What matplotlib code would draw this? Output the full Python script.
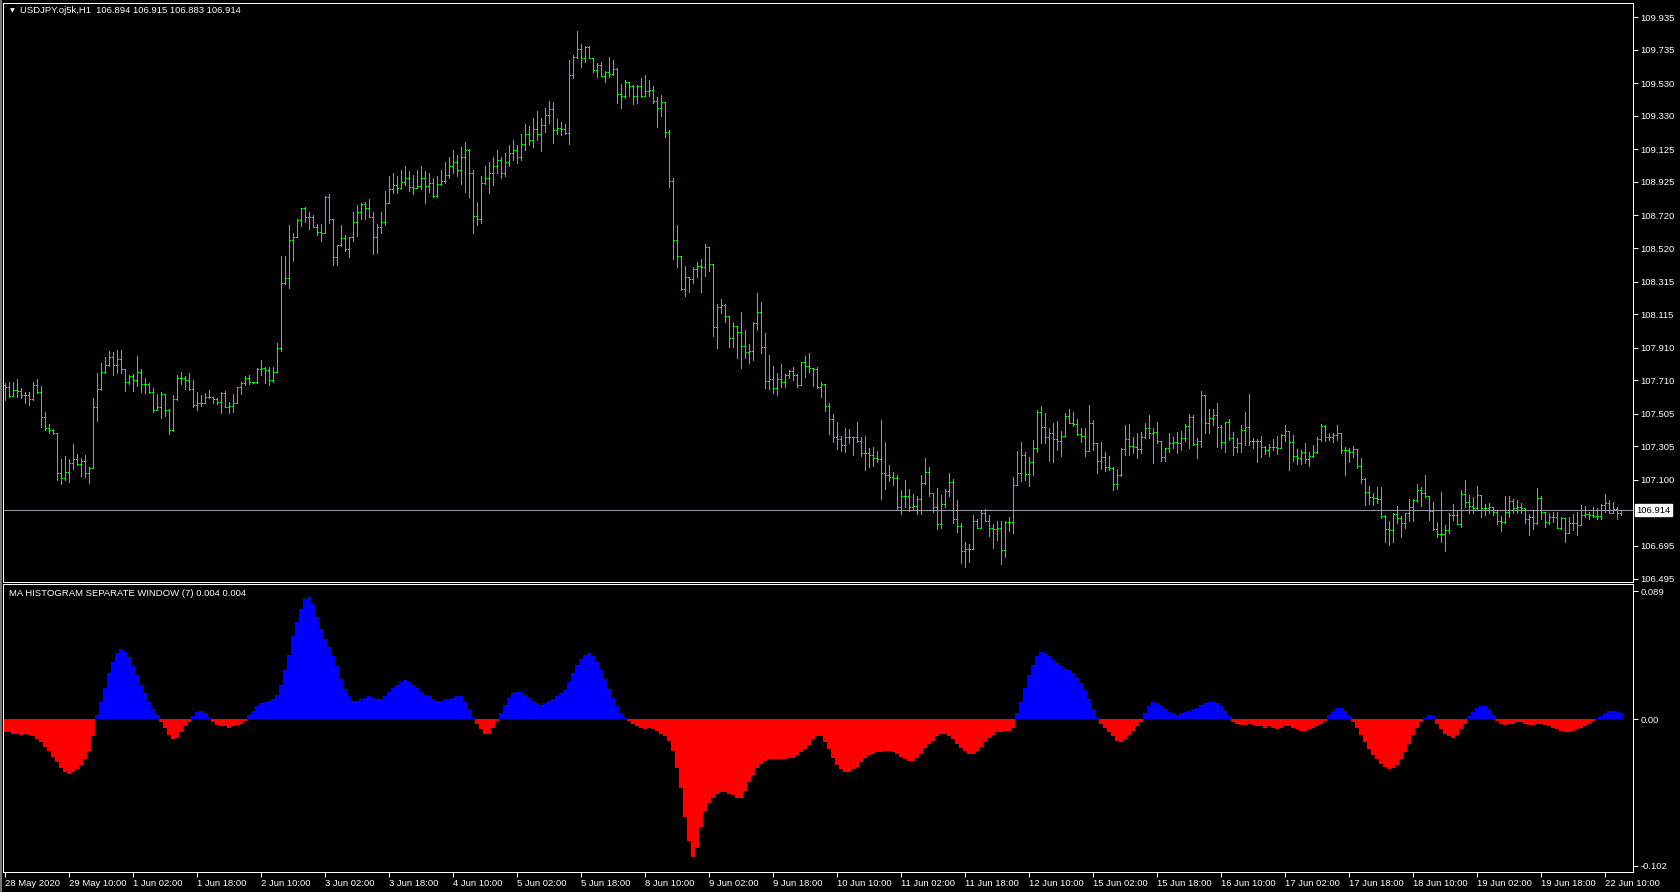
import matplotlib
matplotlib.use('Agg')
import matplotlib.pyplot as plt
import numpy as np
from matplotlib.lines import Line2D

plt.rcParams['font.family'] = ['Liberation Sans', 'DejaVu Sans']

# USDJPY H1 bars, 28 May 2020 18:00 -> 22 Jun 2020 14:00
first_open = 107.680
high = [
    107.695, 107.702, 107.702, 107.718, 107.661, 107.640, 107.640, 107.702, 107.716, 107.675,
    107.518, 107.440, 107.414, 107.389, 107.226, 107.246, 107.228, 107.318, 107.258, 107.232,
    107.252, 107.181, 107.599, 107.753, 107.818, 107.851, 107.889, 107.885, 107.895, 107.895,
    107.732, 107.742, 107.748, 107.859, 107.777, 107.722, 107.695, 107.661, 107.624, 107.640,
    107.624, 107.534, 107.620, 107.742, 107.763, 107.736, 107.753, 107.712, 107.636, 107.620,
    107.634, 107.650, 107.610, 107.599, 107.636, 107.644, 107.579, 107.626, 107.671, 107.697,
    107.736, 107.742, 107.702, 107.783, 107.834, 107.793, 107.793, 107.789, 107.936, 108.471,
    108.471, 108.661, 108.614, 108.698, 108.763, 108.770, 108.739, 108.722, 108.667, 108.667,
    108.839, 108.849, 108.696, 108.539, 108.661, 108.600, 108.586, 108.739, 108.784, 108.794,
    108.800, 108.821, 108.739, 108.667, 108.739, 108.870, 108.960, 108.980, 108.960, 109.000,
    109.020, 108.990, 108.970, 109.000, 109.020, 108.990, 108.980, 108.950, 108.960, 109.000,
    109.050, 109.080, 109.120, 109.090, 109.140, 109.170, 109.130, 109.000, 108.800, 108.960,
    109.020, 109.050, 109.080, 109.120, 109.080, 109.100, 109.150, 109.180, 109.150, 109.220,
    109.280, 109.270, 109.320, 109.360, 109.315, 109.376, 109.421, 109.413, 109.308, 109.290,
    109.280, 109.672, 109.703, 109.850, 109.770, 109.758, 109.758, 109.682, 109.656, 109.662,
    109.607, 109.688, 109.672, 109.621, 109.525, 109.550, 109.539, 109.519, 109.519, 109.560,
    109.580, 109.550, 109.513, 109.443, 109.458, 109.417, 109.243, 108.947, 108.661, 108.471,
    108.410, 108.345, 108.402, 108.433, 108.451, 108.545, 108.524, 108.420, 108.177, 108.206,
    108.177, 108.104, 108.069, 108.042, 108.126, 108.018, 107.932, 108.069, 108.247, 108.192,
    107.998, 107.865, 107.797, 107.753, 107.810, 107.748, 107.773, 107.789, 107.748, 107.824,
    107.859, 107.875, 107.787, 107.793, 107.697, 107.687, 107.573, 107.503, 107.456, 107.368,
    107.415, 107.411, 107.364, 107.456, 107.364, 107.368, 107.293, 107.303, 107.276, 107.466,
    107.330, 107.191, 107.150, 107.129, 107.038, 107.099, 107.042, 107.013, 107.001, 107.129,
    107.232, 107.176, 107.021, 107.048, 107.007, 107.042, 107.140, 107.103, 106.976, 106.833,
    106.721, 106.707, 106.884, 106.858, 106.911, 106.919, 106.884, 106.829, 106.848, 106.848,
    106.848, 106.870, 107.115, 107.276, 107.330, 107.268, 107.238, 107.344, 107.528, 107.552,
    107.507, 107.415, 107.446, 107.460, 107.399, 107.507, 107.532, 107.513, 107.470, 107.416,
    107.416, 107.559, 107.467, 107.328, 107.334, 107.273, 107.246, 107.181, 107.164, 107.293,
    107.436, 107.442, 107.365, 107.385, 107.395, 107.450, 107.497, 107.416, 107.456, 107.293,
    107.293, 107.385, 107.365, 107.395, 107.401, 107.442, 107.503, 107.497, 107.354, 107.646,
    107.620, 107.532, 107.532, 107.569, 107.436, 107.456, 107.471, 107.395, 107.354, 107.436,
    107.518, 107.626, 107.354, 107.348, 107.369, 107.307, 107.320, 107.348, 107.369, 107.381,
    107.436, 107.401, 107.375, 107.289, 107.283, 107.324, 107.273, 107.314, 107.361, 107.442,
    107.436, 107.385, 107.389, 107.436, 107.381, 107.303, 107.293, 107.307, 107.287, 107.232,
    107.109, 107.062, 107.021, 107.054, 107.054, 106.884, 106.850, 106.895, 106.940, 106.878,
    106.899, 106.980, 106.980, 107.074, 107.054, 107.130, 106.997, 106.966, 106.844, 107.027,
    106.823, 106.899, 106.952, 106.915, 107.038, 107.099, 107.007, 106.993, 107.062, 107.007,
    106.952, 106.956, 106.936, 106.909, 106.878, 107.001, 107.001, 106.980, 106.976, 106.956,
    106.925, 106.891, 106.915, 107.048, 107.001, 106.899, 106.895, 106.905, 106.905, 106.870,
    106.817, 106.870, 106.891, 106.905, 106.946, 106.940, 106.905, 106.936, 106.925, 106.952,
    107.013, 106.976, 106.966, 106.931, 106.915,
]
low = [
    107.589, 107.610, 107.620, 107.610, 107.599, 107.569, 107.559, 107.589, 107.630, 107.426,
    107.405, 107.385, 107.381, 107.099, 107.075, 107.099, 107.089, 107.164, 107.191, 107.124,
    107.120, 107.083, 107.171, 107.463, 107.650, 107.757, 107.798, 107.742, 107.753, 107.753,
    107.646, 107.687, 107.644, 107.675, 107.640, 107.634, 107.634, 107.518, 107.528, 107.481,
    107.491, 107.379, 107.401, 107.589, 107.685, 107.655, 107.650, 107.544, 107.528, 107.552,
    107.585, 107.599, 107.573, 107.565, 107.512, 107.544, 107.512, 107.518, 107.569, 107.626,
    107.681, 107.687, 107.691, 107.691, 107.742, 107.695, 107.681, 107.701, 107.763, 107.891,
    108.300, 108.277, 108.443, 108.586, 108.657, 108.682, 108.637, 108.651, 108.600, 108.565,
    108.610, 108.672, 108.416, 108.416, 108.535, 108.504, 108.467, 108.565, 108.596, 108.698,
    108.698, 108.708, 108.482, 108.492, 108.614, 108.661, 108.794, 108.855, 108.855, 108.886,
    108.906, 108.872, 108.851, 108.886, 108.880, 108.798, 108.866, 108.831, 108.835, 108.906,
    108.920, 108.950, 108.980, 108.960, 108.912, 108.866, 108.831, 108.614, 108.661, 108.676,
    108.910, 108.860, 108.906, 108.980, 108.950, 108.960, 109.020, 109.060, 109.040, 109.060,
    109.120, 109.150, 109.140, 109.180, 109.117, 109.233, 109.284, 109.163, 109.219, 109.212,
    109.219, 109.157, 109.560, 109.682, 109.631, 109.662, 109.682, 109.600, 109.570, 109.574,
    109.535, 109.570, 109.580, 109.411, 109.376, 109.437, 109.451, 109.400, 109.406, 109.447,
    109.464, 109.451, 109.406, 109.263, 109.331, 109.198, 108.892, 108.453, 108.406, 108.263,
    108.226, 108.253, 108.304, 108.341, 108.253, 108.349, 108.381, 107.981, 107.906, 108.120,
    108.069, 107.916, 107.916, 107.844, 107.787, 107.844, 107.814, 107.834, 108.018, 107.875,
    107.665, 107.655, 107.634, 107.620, 107.671, 107.671, 107.722, 107.712, 107.667, 107.681,
    107.728, 107.763, 107.675, 107.661, 107.609, 107.524, 107.381, 107.334, 107.287, 107.279,
    107.272, 107.323, 107.252, 107.334, 107.246, 107.160, 107.181, 107.187, 107.211, 106.982,
    107.044, 107.095, 107.068, 106.915, 106.891, 106.931, 106.911, 106.919, 106.891, 106.891,
    107.074, 107.001, 106.905, 106.797, 106.803, 106.931, 107.001, 106.837, 106.782, 106.592,
    106.568, 106.599, 106.674, 106.803, 106.803, 106.845, 106.756, 106.684, 106.731, 106.584,
    106.629, 106.789, 106.776, 107.068, 107.095, 107.099, 107.064, 107.129, 107.272, 107.328,
    107.328, 107.217, 107.211, 107.283, 107.246, 107.405, 107.456, 107.430, 107.375, 107.334,
    107.246, 107.283, 107.283, 107.144, 107.164, 107.156, 107.160, 107.038, 107.042, 107.124,
    107.252, 107.252, 107.263, 107.232, 107.267, 107.354, 107.354, 107.205, 107.328, 107.218,
    107.218, 107.273, 107.293, 107.267, 107.283, 107.340, 107.293, 107.314, 107.232, 107.303,
    107.389, 107.389, 107.436, 107.299, 107.293, 107.273, 107.344, 107.252, 107.273, 107.273,
    107.314, 107.314, 107.293, 107.211, 107.238, 107.258, 107.248, 107.283, 107.258, 107.299,
    107.340, 107.160, 107.218, 107.195, 107.197, 107.205, 107.187, 107.238, 107.263, 107.340,
    107.340, 107.344, 107.334, 107.344, 107.263, 107.130, 107.211, 107.238, 107.171, 107.083,
    106.946, 106.952, 106.946, 106.956, 106.864, 106.721, 106.701, 106.721, 106.833, 106.752,
    106.803, 106.850, 106.850, 106.966, 106.940, 106.997, 106.854, 106.793, 106.748, 106.721,
    106.666, 106.772, 106.854, 106.829, 106.813, 106.936, 106.899, 106.895, 106.915, 106.870,
    106.885, 106.899, 106.885, 106.829, 106.789, 106.838, 106.874, 106.895, 106.899, 106.895,
    106.838, 106.762, 106.797, 106.829, 106.858, 106.813, 106.829, 106.844, 106.803, 106.797,
    106.721, 106.782, 106.793, 106.762, 106.823, 106.874, 106.858, 106.870, 106.858, 106.858,
    106.905, 106.895, 106.905, 106.858, 106.883,
]
close = [
    107.671, 107.616, 107.650, 107.644, 107.620, 107.620, 107.593, 107.681, 107.640, 107.483,
    107.416, 107.405, 107.389, 107.140, 107.113, 107.146, 107.201, 107.226, 107.197, 107.213,
    107.144, 107.171, 107.544, 107.655, 107.763, 107.804, 107.851, 107.804, 107.838, 107.777,
    107.702, 107.738, 107.712, 107.763, 107.685, 107.685, 107.636, 107.528, 107.544, 107.624,
    107.528, 107.405, 107.593, 107.722, 107.722, 107.712, 107.655, 107.559, 107.569, 107.573,
    107.610, 107.610, 107.595, 107.575, 107.634, 107.544, 107.552, 107.569, 107.667, 107.691,
    107.722, 107.702, 107.697, 107.779, 107.783, 107.773, 107.712, 107.763, 107.906, 108.304,
    108.335, 108.569, 108.590, 108.692, 108.763, 108.708, 108.708, 108.651, 108.616, 108.610,
    108.831, 108.696, 108.463, 108.537, 108.580, 108.512, 108.586, 108.678, 108.739, 108.790,
    108.763, 108.708, 108.586, 108.651, 108.678, 108.794, 108.882, 108.906, 108.886, 108.927,
    108.950, 108.896, 108.886, 108.900, 108.950, 108.900, 108.920, 108.840, 108.910, 108.930,
    108.970, 109.020, 109.050, 109.000, 109.080, 109.120, 108.980, 108.716, 108.696, 108.920,
    108.950, 108.980, 109.020, 109.060, 108.980, 109.050, 109.100, 109.120, 109.080, 109.160,
    109.220, 109.180, 109.250, 109.220, 109.272, 109.335, 109.370, 109.243, 109.253, 109.247,
    109.227, 109.580, 109.688, 109.739, 109.682, 109.750, 109.682, 109.611, 109.641, 109.574,
    109.596, 109.586, 109.615, 109.464, 109.451, 109.539, 109.513, 109.451, 109.515, 109.451,
    109.484, 109.488, 109.421, 109.380, 109.413, 109.229, 108.931, 108.569, 108.471, 108.267,
    108.341, 108.330, 108.390, 108.412, 108.402, 108.524, 108.420, 108.034, 108.157, 108.171,
    108.104, 107.967, 108.042, 108.008, 107.920, 107.885, 107.891, 108.059, 108.130, 107.912,
    107.706, 107.716, 107.661, 107.716, 107.702, 107.742, 107.769, 107.742, 107.681, 107.824,
    107.797, 107.783, 107.777, 107.671, 107.685, 107.552, 107.470, 107.360, 107.350, 107.313,
    107.364, 107.360, 107.360, 107.340, 107.266, 107.262, 107.252, 107.232, 107.225, 107.140,
    107.129, 107.119, 107.109, 106.931, 107.001, 107.001, 106.931, 106.940, 106.980, 107.082,
    107.150, 107.017, 106.935, 106.829, 106.952, 107.034, 107.085, 106.858, 106.817, 106.664,
    106.674, 106.674, 106.848, 106.803, 106.899, 106.850, 106.803, 106.797, 106.803, 106.670,
    106.840, 106.844, 107.068, 107.140, 107.252, 107.136, 107.207, 107.293, 107.513, 107.426,
    107.360, 107.389, 107.348, 107.338, 107.368, 107.493, 107.450, 107.440, 107.379, 107.370,
    107.277, 107.450, 107.328, 107.218, 107.238, 107.177, 107.171, 107.075, 107.130, 107.287,
    107.348, 107.307, 107.299, 107.287, 107.365, 107.416, 107.389, 107.395, 107.338, 107.238,
    107.293, 107.324, 107.334, 107.324, 107.358, 107.430, 107.483, 107.320, 107.338, 107.620,
    107.446, 107.481, 107.497, 107.426, 107.330, 107.456, 107.358, 107.303, 107.328, 107.405,
    107.422, 107.338, 107.338, 107.338, 107.299, 107.283, 107.299, 107.299, 107.293, 107.375,
    107.399, 107.330, 107.246, 107.232, 107.273, 107.226, 107.246, 107.269, 107.348, 107.430,
    107.361, 107.365, 107.373, 107.385, 107.283, 107.283, 107.273, 107.287, 107.187, 107.103,
    107.023, 106.993, 106.987, 106.983, 106.878, 106.797, 106.793, 106.891, 106.864, 106.833,
    106.895, 106.932, 106.976, 107.038, 107.021, 107.001, 106.909, 106.797, 106.768, 106.768,
    106.793, 106.885, 106.885, 106.829, 107.011, 106.966, 106.940, 106.925, 107.007, 106.925,
    106.925, 106.932, 106.905, 106.850, 106.844, 106.901, 106.972, 106.925, 106.932, 106.925,
    106.858, 106.870, 106.833, 106.987, 106.901, 106.844, 106.870, 106.870, 106.803, 106.864,
    106.772, 106.833, 106.838, 106.823, 106.885, 106.891, 106.885, 106.878, 106.878, 106.946,
    106.956, 106.899, 106.919, 106.895, 106.914,
]

# MA histogram values (separate window)
hist = [
    -0.009, -0.009, -0.010, -0.010, -0.011, -0.010, -0.011, -0.012, -0.014, -0.016,
    -0.019, -0.022, -0.026, -0.030, -0.034, -0.037, -0.038, -0.037, -0.035, -0.032,
    -0.028, -0.022, -0.012, 0.003, 0.012, 0.022, 0.032, 0.040, 0.046, 0.049,
    0.047, 0.043, 0.037, 0.031, 0.024, 0.018, 0.012, 0.007, 0.003, -0.002,
    -0.006, -0.011, -0.014, -0.013, -0.009, -0.005, -0.002, 0.002, 0.005, 0.006,
    0.004, 0.001, -0.002, -0.004, -0.005, -0.005, -0.006, -0.005, -0.004, -0.003,
    -0.001, 0.003, 0.006, 0.009, 0.011, 0.012, 0.013, 0.014, 0.017, 0.024,
    0.034, 0.045, 0.058, 0.068, 0.077, 0.084, 0.085, 0.080, 0.071, 0.063,
    0.056, 0.050, 0.044, 0.037, 0.028, 0.021, 0.016, 0.013, 0.013, 0.014,
    0.015, 0.016, 0.015, 0.014, 0.014, 0.016, 0.019, 0.022, 0.024, 0.026,
    0.027, 0.026, 0.024, 0.022, 0.019, 0.017, 0.016, 0.014, 0.013, 0.013,
    0.014, 0.014, 0.015, 0.016, 0.016, 0.012, 0.007, 0.001, -0.003, -0.007,
    -0.010, -0.010, -0.006, -0.001, 0.004, 0.010, 0.015, 0.018, 0.019, 0.019,
    0.017, 0.015, 0.013, 0.011, 0.010, 0.011, 0.013, 0.014, 0.016, 0.018,
    0.020, 0.026, 0.032, 0.038, 0.042, 0.045, 0.046, 0.044, 0.040, 0.034,
    0.028, 0.021, 0.015, 0.009, 0.004, 0.001, -0.001, -0.003, -0.005, -0.006,
    -0.007, -0.006, -0.007, -0.008, -0.010, -0.012, -0.015, -0.022, -0.034, -0.048,
    -0.068, -0.085, -0.096, -0.090, -0.075, -0.064, -0.058, -0.055, -0.052, -0.051,
    -0.051, -0.052, -0.053, -0.055, -0.055, -0.050, -0.044, -0.039, -0.034, -0.031,
    -0.029, -0.028, -0.028, -0.028, -0.028, -0.028, -0.027, -0.027, -0.025, -0.023,
    -0.021, -0.018, -0.014, -0.012, -0.012, -0.016, -0.021, -0.027, -0.032, -0.035,
    -0.037, -0.037, -0.035, -0.033, -0.030, -0.027, -0.025, -0.024, -0.023, -0.023,
    -0.022, -0.022, -0.023, -0.024, -0.026, -0.028, -0.029, -0.029, -0.027, -0.024,
    -0.020, -0.017, -0.015, -0.012, -0.010, -0.010, -0.012, -0.014, -0.017, -0.020,
    -0.022, -0.024, -0.024, -0.022, -0.019, -0.016, -0.013, -0.011, -0.009, -0.009,
    -0.008, -0.008, -0.006, 0.004, 0.012, 0.022, 0.031, 0.038, 0.044, 0.047,
    0.046, 0.044, 0.041, 0.039, 0.037, 0.035, 0.034, 0.032, 0.029, 0.025,
    0.020, 0.014, 0.007, 0.001, -0.003, -0.006, -0.009, -0.012, -0.015, -0.016,
    -0.014, -0.011, -0.008, -0.005, -0.002, 0.004, 0.009, 0.012, 0.011, 0.009,
    0.007, 0.005, 0.004, 0.003, 0.004, 0.005, 0.006, 0.007, 0.008, 0.010,
    0.011, 0.012, 0.012, 0.011, 0.009, 0.006, 0.002, -0.002, -0.003, -0.004,
    -0.004, -0.003, -0.004, -0.005, -0.005, -0.006, -0.005, -0.006, -0.007, -0.006,
    -0.005, -0.005, -0.006, -0.007, -0.008, -0.008, -0.007, -0.006, -0.005, -0.003,
    -0.001, 0.003, 0.006, 0.008, 0.008, 0.006, 0.002, -0.002, -0.006, -0.011,
    -0.016, -0.021, -0.025, -0.028, -0.031, -0.033, -0.035, -0.034, -0.032, -0.028,
    -0.023, -0.017, -0.011, -0.006, -0.002, 0.001, 0.003, 0.002, -0.003, -0.007,
    -0.010, -0.012, -0.013, -0.011, -0.007, -0.003, 0.002, 0.005, 0.008, 0.009,
    0.009, 0.007, 0.003, -0.001, -0.003, -0.004, -0.003, -0.003, -0.002, -0.002,
    -0.003, -0.004, -0.004, -0.003, -0.003, -0.004, -0.005, -0.006, -0.007, -0.008,
    -0.009, -0.009, -0.008, -0.007, -0.006, -0.005, -0.003, -0.001, 0.001, 0.002,
    0.004, 0.006, 0.006, 0.005, 0.004,
]

date_labels = ['28 May 2020', '29 May 10:00', '1 Jun 02:00', '1 Jun 18:00', '2 Jun 10:00',
               '3 Jun 02:00', '3 Jun 18:00', '4 Jun 10:00', '5 Jun 02:00', '5 Jun 18:00',
               '8 Jun 10:00', '9 Jun 02:00', '9 Jun 18:00', '10 Jun 10:00', '11 Jun 02:00',
               '11 Jun 18:00', '12 Jun 10:00', '15 Jun 02:00', '15 Jun 18:00', '16 Jun 10:00',
               '17 Jun 02:00', '17 Jun 18:00', '18 Jun 10:00', '19 Jun 02:00', '19 Jun 18:00',
               '22 Jun 10:00']
price_levels = [106.495, 106.695, 107.100, 107.305, 107.505, 107.710, 107.910, 108.115,
                108.315, 108.520, 108.720, 108.925, 109.125, 109.330, 109.530, 109.735, 109.935]
hist_levels = [0.089, 0.0, -0.102]
hist_level_labels = ['0.089', '0.00', '-0.102']
last_price = 106.914
symbol = 'USDJPY.oj5k,H1'
last_ohlc = '106.894 106.915 106.883 106.914'
ind_title = 'MA HISTOGRAM SEPARATE WINDOW (7) 0.004 0.004'

n = len(close)
assert len(high) == n and len(low) == n and len(hist) == n
x = np.arange(n)
o = np.array([first_open] + close[:-1])
c = np.array(close)
h = np.maximum.reduce([np.array(high), o, c])
l = np.minimum.reduce([np.array(low), o, c])

W, H = 1680, 892
fig = plt.figure(figsize=(W / 100, H / 100), dpi=100, facecolor='black')

def rect(x0, y0, x1, y1):
    return [x0 / W, 1 - y1 / H, (x1 - x0) / W, (y1 - y0) / H]

px = 0.72  # one pixel in points
green = '#00ff00'
fs = 6.8

ax = fig.add_axes(rect(3, 3, 1633, 582), facecolor='black')
ax2 = fig.add_axes(rect(3, 584, 1633, 872), facecolor='black')

# price bars, 1 px lines
ax.vlines(x, l, h, colors=green, linewidth=px, antialiased=False)
ax.hlines(o, x - 0.3, x, colors=green, linewidth=px, antialiased=False)
ax.hlines(c, x, x + 0.3, colors=green, linewidth=px, antialiased=False)
ax.axhline(last_price, color='#9a9aa6', linewidth=px)

xl = (-0.5, (1633 - 5) / 4)
ax.set_xlim(*xl)
ax.set_ylim(110.040 - 0.006127 * 582, 110.040 - 0.006127 * 3)
ax.set_xticks([])
ax.yaxis.tick_right()
ax.set_yticks(price_levels)
ax.set_yticklabels([f'{v:.3f}' for v in price_levels])
ax.tick_params(axis='y', colors='white', labelcolor='white', labelsize=fs,
               direction='out', length=3.5, width=px, pad=2)
ax.text(1.002, last_price, f'{last_price:.3f}', transform=ax.get_yaxis_transform(),
        va='center', ha='left', fontsize=fs, color='black', zorder=10, clip_on=False,
        bbox=dict(boxstyle='square,pad=0.15', facecolor='white', edgecolor='white'))

# histogram
bar_colors = ['#0000ff' if v > 0 else '#ff0000' for v in hist]
ax2.bar(x, hist, width=1.0, color=bar_colors, linewidth=0, antialiased=False)
ax2.set_xlim(*xl)
ax2.set_ylim(-0.102 - 6.3 / 1436, 0.089 + 7.4 / 1436)
ax2.yaxis.tick_right()
ax2.set_yticks(hist_levels)
ax2.set_yticklabels(hist_level_labels)
ax2.tick_params(axis='y', colors='white', labelcolor='white', labelsize=fs,
                direction='out', length=3.5, width=px, pad=2)
ax2.set_xticks(np.arange(len(date_labels)) * 16)
ax2.set_xticklabels(date_labels, ha='left')
ax2.tick_params(axis='x', colors='white', labelcolor='white', labelsize=fs,
                direction='out', length=3.5, width=px, pad=1.5)

for a in (ax, ax2):
    for s in a.spines.values():
        s.set_color('white')
        s.set_linewidth(px)

# window edge and captions
fig.add_artist(Line2D([0.8 / W, 0.8 / W], [0, 1], color='#a0a0a0', linewidth=1.5 * px))
fig.text(12 / W, 1 - 10.5 / H, '\u25bc', fontsize=4.5, color='white', ha='center',
         va='center', family='DejaVu Sans')
fig.text(20 / W, 1 - 10.5 / H, symbol + '  ' + last_ohlc, fontsize=fs, color='white',
         ha='left', va='center')
fig.text(9 / W, 1 - 593 / H, ind_title, fontsize=fs, color='white', ha='left', va='center')

fig.savefig('out.png', dpi=100, facecolor='black')
